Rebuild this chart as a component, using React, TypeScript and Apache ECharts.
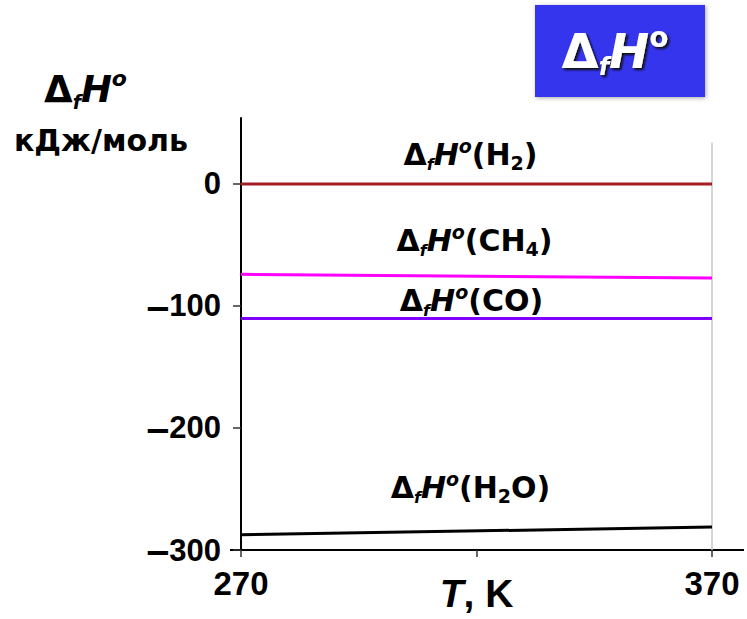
import React, { useEffect, useRef } from "react";
import * as echarts from "echarts";

// ---- data ----
const temps = [270, 370];
const h2Values = [0, 0];
const ch4Values = [-74.1, -77.1];
const coValues = [-110.2, -110.4];
const h2oValues = [-287.5, -281.2];

const yTickValues = [-300, -200, -100, 0];
const xTickValues = [270, 320, 370];
const xLabelValues = [270, 370];

const seriesNames = ["H2", "CH4", "CO", "H2O"];
const seriesLabels = [
  "{d|Δ}{f|f}{h|H}{o|o}{n|(H}{s|2}{n|)}",
  "{d|Δ}{f|f}{h|H}{o|o}{n|(CH}{s|4}{n|)}",
  "{d|Δ}{f|f}{h|H}{o|o}{n|(CO)}",
  "{d|Δ}{f|f}{h|H}{o|o}{n|(H}{s|2}{n|O)}",
];

// ---- styles / layout ----
const DV = "'DejaVu Sans'";
const LS = "'Liberation Sans', Arial";
const seriesColors = ["#a31d24", "#ff00ff", "#7f00ff", "#000000"];
const labelOffsets = [
  [-6, -29],
  [-2, -36],
  [-5, -18],
  [-6, -43],
];

const lineLabelRich = {
  d: { fontFamily: DV, fontWeight: "bold", fontSize: 30, lineHeight: 36, color: "#000" },
  f: { fontFamily: DV, fontWeight: "bold", fontStyle: "italic", fontSize: 16, lineHeight: 26, verticalAlign: "bottom", color: "#000" },
  h: { fontFamily: DV, fontWeight: "bold", fontStyle: "italic", fontSize: 30, lineHeight: 36, color: "#000" },
  o: { fontFamily: DV, fontWeight: "bold", fontStyle: "italic", fontSize: 19, lineHeight: 23, verticalAlign: "top", color: "#000" },
  n: { fontFamily: DV, fontWeight: "bold", fontSize: 30, lineHeight: 36, color: "#000" },
  s: { fontFamily: DV, fontWeight: "bold", fontSize: 19, lineHeight: 26, verticalAlign: "bottom", color: "#000" },
};

const valuesList = [h2Values, ch4Values, coValues, h2oValues];

const shadow = { textShadowColor: "#111", textShadowBlur: 2, textShadowOffsetX: 2, textShadowOffsetY: 2 };

export default function App() {
  const ref = useRef<HTMLDivElement>(null);

  useEffect(() => {
    if (!ref.current) return;
    const chart = echarts.init(ref.current, null, { renderer: "svg" });

    const series = valuesList.map((vals, i) => {
      const mid = (vals[0] + vals[vals.length - 1]) / 2;
      const s: any = {
        name: seriesNames[i],
        type: "line",
        data: temps.map((t, k) => [t, vals[k]]),
        showSymbol: false,
        symbol: "none",
        lineStyle: { width: 3, color: seriesColors[i] },
        itemStyle: { color: seriesColors[i] },
        z: 3,
        markPoint: {
          symbol: "circle",
          symbolSize: 0,
          silent: true,
          itemStyle: { color: "transparent" },
          data: [{ coord: [320, mid] }],
          label: {
            show: true,
            position: "inside",
            offset: labelOffsets[i],
            formatter: seriesLabels[i],
            rich: lineLabelRich,
          },
        },
      };
      if (i === 0) {
        s.markLine = {
          silent: true,
          symbol: ["none", "none"],
          label: { show: false },
          lineStyle: { color: "#c8c8c8", width: 1.5, type: "solid" },
          data: [[{ coord: [370, 34] }, { coord: [370, -300] }]],
          z: 1,
        };
      }
      return s;
    });

    chart.setOption({
      animation: false,
      backgroundColor: "#ffffff",
      grid: { left: 241, right: 35, top: 118, bottom: 69, containLabel: false, outerBoundsMode: "none" },
      xAxis: {
        type: "value",
        min: 270,
        max: 370,
        interval: 50,
        axisLine: { show: true, onZero: false, lineStyle: { color: "#000", width: 2 } },
        axisTick: { show: true, length: 7, customValues: xTickValues, lineStyle: { color: "#333", width: 1.5 } },
        axisLabel: {
          customValues: xLabelValues,
          margin: 17,
          fontFamily: LS,
          fontWeight: "bold",
          fontSize: 33,
          color: "#000",
          hideOverlap: false,
        },
        splitLine: { show: false },
        name: "{t|T}{k|, K}",
        nameLocation: "middle",
        nameGap: 24,
        nameMoveOverlap: false,
        nameTextStyle: {
          verticalAlign: "top",
          rich: {
            t: { fontFamily: LS, fontWeight: "bold", fontStyle: "italic", fontSize: 39, color: "#000" },
            k: { fontFamily: LS, fontWeight: "bold", fontSize: 39, color: "#000" },
          },
        },
      },
      yAxis: {
        type: "value",
        min: -300,
        max: 54,
        interval: 100,
        axisLine: { show: true, onZero: false, lineStyle: { color: "#000", width: 2 } },
        axisTick: { show: true, length: 8, customValues: yTickValues, lineStyle: { color: "#333", width: 1.5 } },
        axisLabel: {
          customValues: yTickValues,
          margin: 20,
          color: "#000",
          formatter: (v: number) => (v < 0 ? "{m|–}{n|" + Math.abs(v) + "}" : "{n|" + v + "}"),
          rich: {
            m: { fontFamily: LS, fontWeight: "bold", fontSize: 41, color: "#000" },
            n: { fontFamily: LS, fontWeight: "bold", fontSize: 31, color: "#000" },
          },
        },
        splitLine: { show: false },
      },
      series,
      graphic: [
        { type: "line", shape: { x1: 230, y1: 550, x2: 241, y2: 550 }, style: { stroke: "#000", lineWidth: 2 } },
        { type: "line", shape: { x1: 712, y1: 550, x2: 744, y2: 550 }, style: { stroke: "#000", lineWidth: 2 } },
        {
          type: "text",
          x: 44,
          y: 89,
          style: {
            text: "{d|Δ}{f|f}{h|H}{o|o}",
            verticalAlign: "middle",
            rich: {
              d: { fontFamily: DV, fontWeight: "bold", fontSize: 37, lineHeight: 44, fill: "#000" },
              f: { fontFamily: DV, fontWeight: "bold", fontStyle: "italic", fontSize: 19, lineHeight: 32, verticalAlign: "bottom", fill: "#000" },
              h: { fontFamily: DV, fontWeight: "bold", fontStyle: "italic", fontSize: 37, lineHeight: 44, fill: "#000" },
              o: { fontFamily: DV, fontWeight: "bold", fontStyle: "italic", fontSize: 22, lineHeight: 28, verticalAlign: "top", fill: "#000" },
            },
          },
        },
        {
          type: "text",
          x: 14,
          y: 140,
          style: {
            text: "кДж/моль",
            fontFamily: DV,
            fontWeight: "bold",
            fontSize: 30,
            fill: "#000",
            verticalAlign: "middle",
          },
        },
        {
          type: "rect",
          shape: { x: 535, y: 5, width: 170, height: 92 },
          style: { fill: "#3434ee", shadowBlur: 4, shadowColor: "rgba(0,0,0,0.35)", shadowOffsetX: 1, shadowOffsetY: 1 },
        },
        {
          type: "text",
          x: 615,
          y: 51,
          style: {
            text: "{d|Δ}{f|f}{h|H}{o|o}",
            align: "center",
            verticalAlign: "middle",
            rich: {
              d: { fontFamily: DV, fontWeight: "bold", fontSize: 48, lineHeight: 56, fill: "#fff", ...shadow },
              f: { fontFamily: DV, fontWeight: "bold", fontStyle: "italic", fontSize: 24, lineHeight: 40, verticalAlign: "bottom", fill: "#fff", ...shadow },
              h: { fontFamily: DV, fontWeight: "bold", fontStyle: "italic", fontSize: 48, lineHeight: 56, fill: "#fff", ...shadow },
              o: { fontFamily: DV, fontWeight: "bold", fontSize: 28, lineHeight: 36, verticalAlign: "top", fill: "#fff", ...shadow },
            },
          },
        },
      ],
    });

    return () => chart.dispose();
  }, []);

  return (
    <div
      ref={ref}
      style={{ position: "fixed", left: 0, top: 0, width: 747, height: 619, background: "#fff" }}
    />
  );
}
